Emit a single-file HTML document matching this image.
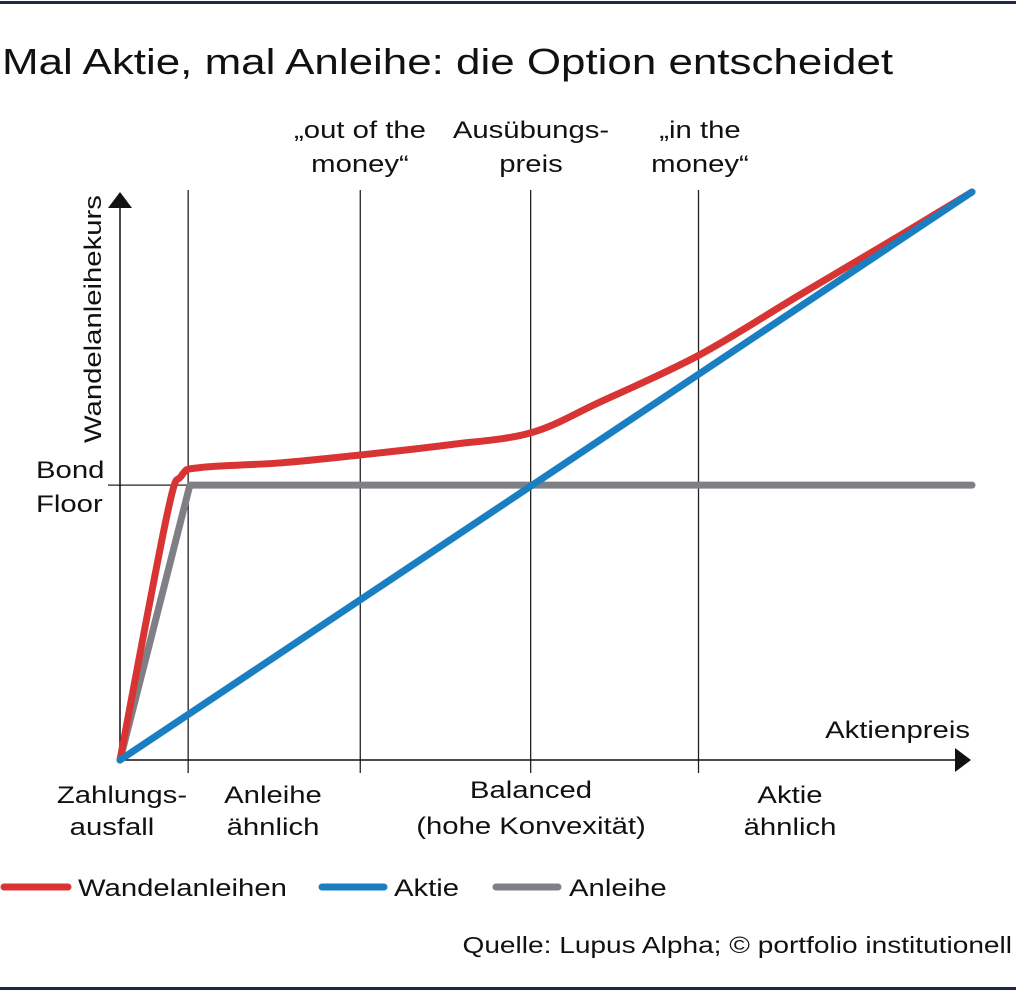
<!DOCTYPE html>
<html><head><meta charset="utf-8">
<style>
body{margin:0;background:#fff;width:1016px;height:992px;overflow:hidden;font-family:"Liberation Sans","DejaVu Sans",sans-serif;}
svg text{font-family:"Liberation Sans","DejaVu Sans",sans-serif;fill:#111;}
</style></head>
<body>
<svg width="1016" height="992" viewBox="0 0 1016 992">
<rect x="0" y="1" width="1016" height="3" fill="#1b2a47"/>
<rect x="0" y="987" width="1016" height="3" fill="#1b2a47"/>
<text x="2" y="74" font-size="36">Mal Aktie, mal Anleihe: die Option entscheidet</text>
<g id="grid"></g>
<g id="axes"></g>
<g id="series"></g>
<g font-size="24" text-anchor="middle">
<text x="360" y="138">„out of the</text><text x="360" y="172">money“</text>
<text x="531" y="138">Ausübungs-</text><text x="531" y="172">preis</text>
<text x="700" y="138">„in the</text><text x="700" y="172">money“</text>
<text x="122" y="803">Zahlungs-</text><text x="112" y="835">ausfall</text>
<text x="273" y="803">Anleihe</text><text x="273" y="835">ähnlich</text>
<text x="531" y="798">Balanced</text><text x="531" y="834">(hohe Konvexität)</text>
<text x="790" y="803">Aktie</text><text x="790" y="835">ähnlich</text>
</g>
<text x="36" y="478" font-size="24">Bond</text>
<text x="36" y="512" font-size="24">Floor</text>
<text x="970" y="738" font-size="24" text-anchor="end">Aktienpreis</text>
<text transform="translate(101,443) rotate(-90)" font-size="24">Wandelanleihekurs</text>
<g font-size="24">
<line x1="4" y1="887" x2="68" y2="887" stroke="#d93434" stroke-width="7" stroke-linecap="round"/>
<text x="78" y="896">Wandelanleihen</text>
<line x1="322" y1="887" x2="384" y2="887" stroke="#1a7fc1" stroke-width="7" stroke-linecap="round"/>
<text x="394" y="896">Aktie</text>
<line x1="496" y1="887" x2="558" y2="887" stroke="#7f8085" stroke-width="7" stroke-linecap="round"/>
<text x="569" y="896">Anleihe</text>
</g>
<text x="1012" y="953" font-size="23" text-anchor="end">Quelle: Lupus Alpha; © portfolio institutionell</text>
</svg>
<script>
const zoneBoundaries=[0.8,2.82,4.82,6.79];
const bondFloor=4.84;
const aktieX=[0,10], aktieY=[0,10];
const anleiheX=[0,0.82,10], anleiheY=[0,bondFloor,bondFloor];
const wandelX=[0,0.55,0.72,0.95,1.88,2.82,3.87,4.82,5.63,6.8,7.98,9.15,10];
const wandelY=[0,4.3,5.0,5.15,5.23,5.37,5.55,5.76,6.3,7.13,8.19,9.23,10];
const NS="http://www.w3.org/2000/svg";
const sx=v=>120+v*85.2, sy=v=>760-v*56.8;
function mk(tag,attrs,parent){const e=document.createElementNS(NS,tag);for(const k in attrs)e.setAttribute(k,attrs[k]);document.getElementById(parent).appendChild(e);return e;}
zoneBoundaries.forEach((b,i)=>{
 const l=mk('line',{x1:sx(b),x2:sx(b),y1:190,y2:773,stroke:'#222','stroke-width':1.3},'grid');
 
 
});
let bl=mk('line',{x1:108,x2:sx(0.82),y1:sy(bondFloor),y2:sy(bondFloor),stroke:'#222','stroke-width':1.3},'grid');


let ya=mk('line',{x1:120,x2:120,y1:205,y2:762,stroke:'#111','stroke-width':1.5},'axes');


let yh=mk('polygon',{points:'108,208 132,208 120,192',fill:'#111'},'axes');


let xa=mk('line',{x1:118,x2:958,y1:760,y2:760,stroke:'#111','stroke-width':1.5},'axes');


let xh=mk('polygon',{points:'955,748 955,772 971,760',fill:'#111'},'axes');


function pathFor(xs,ys,smooth){
 const p=xs.map((x,i)=>[sx(x),sy(ys[i])]);
 if(!smooth)return 'M'+p.map(q=>q.join(',')).join(' L');
 let d='M'+p[0].join(',');
 for(let i=0;i<p.length-1;i++){
  const p0=p[i-1]||p[i],p1=p[i],p2=p[i+1],p3=p[i+2]||p2;
  const c1=[p1[0]+(p2[0]-p0[0])/6,p1[1]+(p2[1]-p0[1])/6];
  const c2=[p2[0]-(p3[0]-p1[0])/6,p2[1]-(p3[1]-p1[1])/6];
  d+=' C'+c1.join(',')+' '+c2.join(',')+' '+p2.join(',');
 }
 return d;
}
let g=mk('path',{d:pathFor(anleiheX,anleiheY,false),fill:'none',stroke:'#7f8085','stroke-width':7,'stroke-linejoin':'round','stroke-linecap':'round'},'series');


let b=mk('path',{d:pathFor(aktieX,aktieY,false),fill:'none',stroke:'#1a7fc1','stroke-width':7,'stroke-linecap':'round'},'series');


let r=mk('path',{d:pathFor(wandelX,wandelY,true),fill:'none',stroke:'#d93434','stroke-width':7,'stroke-linejoin':'round','stroke-linecap':'round'},'series');


document.getElementById('series').insertBefore(r,b);
document.querySelectorAll('svg text').forEach(t=>{
 const w=t.getComputedTextLength();
 t.setAttribute('textLength',(w*1.22).toFixed(1));
 t.setAttribute('lengthAdjust','spacingAndGlyphs');
});
</script>
</body></html>
